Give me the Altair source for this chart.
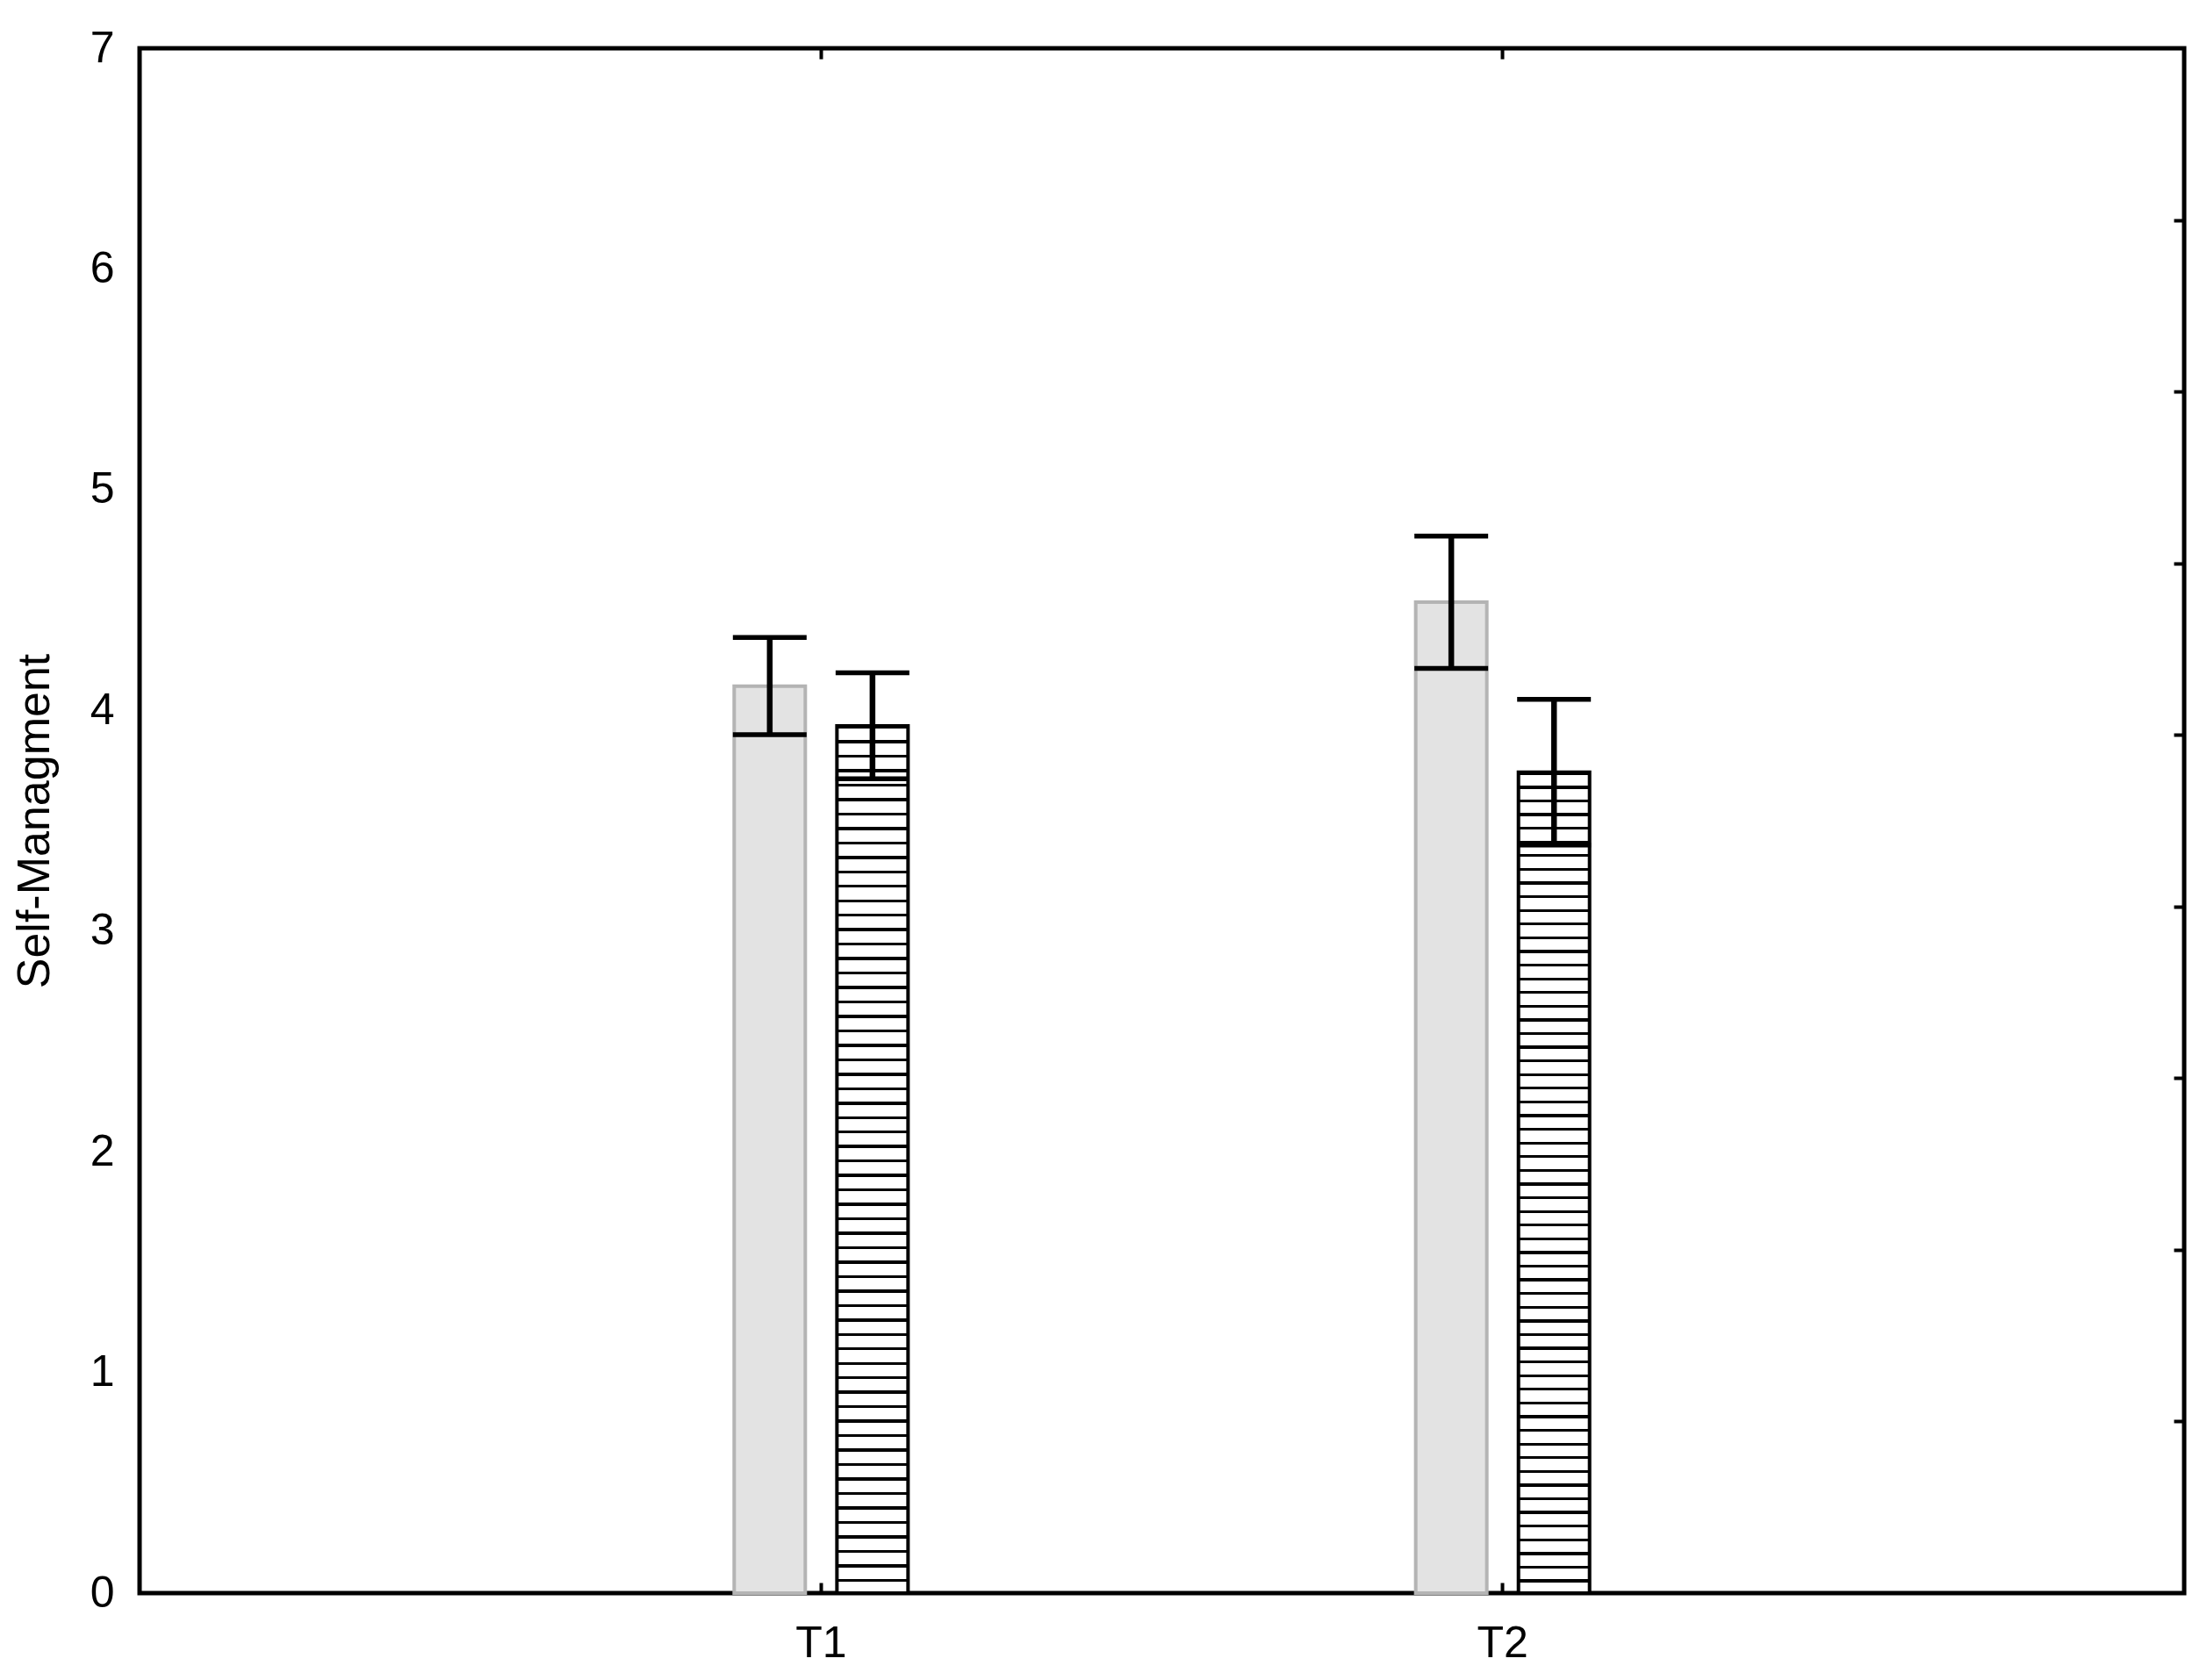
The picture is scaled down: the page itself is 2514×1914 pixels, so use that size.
import altair as alt
import pandas as pd

# ---- data ----
time_labels = ["T1", "T2"]
group_names = ["Group 1", "Group 2"]
times = ["T1", "T1", "T2", "T2"]
groups = ["Group 1", "Group 2", "Group 1", "Group 2"]
means = [4.11, 3.93, 4.49, 3.72]
errors = [0.22, 0.24, 0.30, 0.33]
y_ticks = [0, 1, 2, 3, 4, 5, 6, 7]
right_ticks = [1, 2, 3, 4, 5, 6, 7, 8]

df = pd.DataFrame({"time": times, "group": groups, "mean": means, "err": errors})
df["lo"] = df["mean"] - df["err"]
df["hi"] = df["mean"] + df["err"]

FONT = "Liberation Sans"

# horizontal hatch fill (styling only)
N = 60
frac = 0.21
stops = []
for i in range(N):
    a = i / N
    b = (i + frac) / N
    c = (i + 1) / N
    stops += [
        alt.GradientStop(color="black", offset=a),
        alt.GradientStop(color="black", offset=b),
        alt.GradientStop(color="white", offset=b),
        alt.GradientStop(color="white", offset=c),
    ]
hatch = alt.LinearGradient(gradient="linear", stops=stops, x1=0, x2=0, y1=0, y2=1)

x_axis = alt.Axis(
    title=None, orient="bottom", labelAngle=0, labelFontSize=50, labelFont=FONT,
    labelColor="black", labelPadding=32, ticks=True, tickSize=12, tickWidth=4,
    tickColor="black", offset=-12, domain=False, grid=False,
)
y_axis = alt.Axis(
    values=y_ticks, orient="left", ticks=False, tickSize=0, domain=False, grid=False,
    labelPadding=29, labelFontSize=50, labelFont=FONT, labelColor="black",
    title="Self-Managment", titleFontSize=52, titleFont=FONT, titleFontWeight="normal",
    titleColor="black", titleX=-93, titleY=880,
)
x_scale = alt.Scale(domain=time_labels, paddingInner=0.4434, paddingOuter=0.7217)
xo_scale = alt.Scale(domain=group_names, paddingInner=0.308, paddingOuter=1)
y_scale = alt.Scale(domain=[0, 7], nice=False, zero=True)

X = alt.X("time:N", scale=x_scale, axis=x_axis, sort=time_labels)
XO = alt.XOffset("group:N", scale=xo_scale, sort=group_names)

base = alt.Chart(df)

barA = base.transform_filter(alt.datum.group == "Group 1").mark_bar(
    fill="#e3e3e3", stroke="#b4b4b4", strokeWidth=4
).encode(x=X, xOffset=XO, y=alt.Y("mean:Q", scale=y_scale, axis=y_axis))

barB = base.transform_filter(alt.datum.group == "Group 2").mark_bar(
    fill=hatch, stroke="black", strokeWidth=4
).encode(x=X, xOffset=XO, y=alt.Y("mean:Q", scale=y_scale, axis=y_axis))

rule = base.mark_rule(color="black", strokeWidth=6.5).encode(
    x=X, xOffset=XO, y=alt.Y("lo:Q", scale=y_scale, axis=y_axis), y2="hi:Q"
)
cap_hi = base.mark_tick(color="black", thickness=5.5, size=84, opacity=1).encode(
    x=X, xOffset=XO, y=alt.Y("hi:Q", scale=y_scale, axis=y_axis)
)
cap_lo = base.mark_tick(color="black", thickness=5.5, size=84, opacity=1).encode(
    x=X, xOffset=XO, y=alt.Y("lo:Q", scale=y_scale, axis=y_axis)
)

inner = alt.layer(barA, barB, rule, cap_hi, cap_lo)

ghost = base.mark_point(opacity=0).encode(
    x=alt.X("time:N", sort=time_labels, axis=alt.Axis(
        orient="top", labels=False, title=None, ticks=True, tickSize=12, tickWidth=4,
        tickColor="black", offset=-12, domain=False, grid=False)),
    y=alt.Y("mean:Q", scale=alt.Scale(domain=[0, 9], nice=False, zero=True), axis=alt.Axis(
        orient="right", values=right_ticks, labels=False, title=None, ticks=True,
        tickSize=12, tickWidth=4, tickColor="black", offset=-12, domain=False, grid=False)),
)

chart = alt.layer(inner, ghost).resolve_scale(y="independent").resolve_axis(
    x="independent", y="independent"
).properties(
    width=2329, height=1760, autosize="none",
    padding={"left": 151, "top": 47, "right": 18, "bottom": 91},
    background="white",
).configure_view(stroke="black", strokeWidth=5)

chart.save("out.html", embed_options={"renderer": "svg", "actions": False})
